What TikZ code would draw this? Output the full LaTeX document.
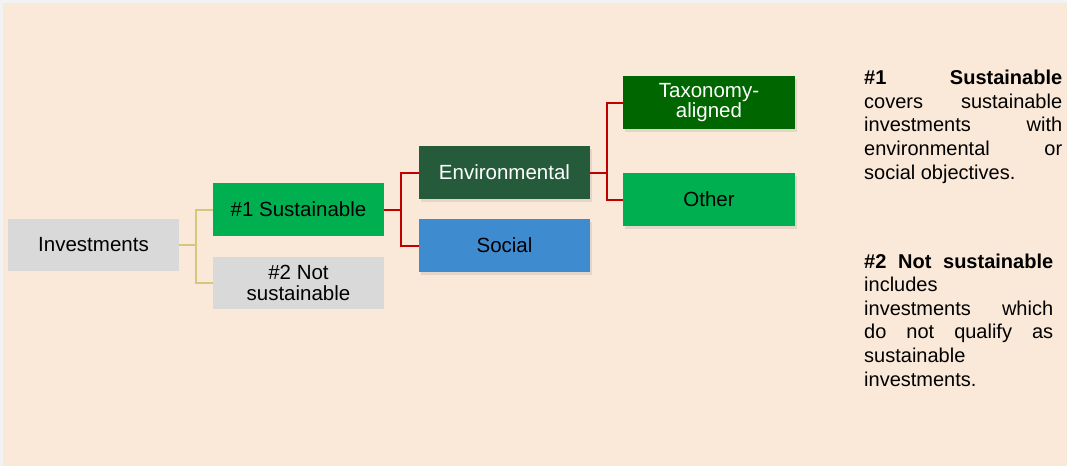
\documentclass[tikz,border=0pt]{standalone}
\usepackage{fontspec}
\setmainfont{Liberation Sans}
\usetikzlibrary{shadows}
\definecolor{bgpeach}{HTML}{FAE8D8}
\definecolor{bggray}{HTML}{F2F2F2}
\definecolor{boxgray}{HTML}{D9D9D9}
\definecolor{brightgreen}{HTML}{00B050}
\definecolor{envgreen}{HTML}{255B3B}
\definecolor{socblue}{HTML}{3F8BD0}
\definecolor{taxgreen}{HTML}{006600}
\definecolor{tanline}{HTML}{D6C77E}
\definecolor{redline}{HTML}{C00000}
\tikzset{
  box/.style={minimum width=171pt, minimum height=53pt, inner sep=0pt, align=center,
    font=\fontsize{20.5}{20.5}\selectfont},
  shad/.style={drop shadow={opacity=0.18, shadow xshift=2pt, shadow yshift=-3pt}},
  tanconn/.style={draw=tanline, line width=2pt},
  redconn/.style={draw=redline, line width=2pt},
  para/.style={anchor=base west, inner sep=0pt, align=left,
    font=\fontsize{20}{23.6}\selectfont}
}
\begin{document}
\begin{tikzpicture}[x=1pt,y=-1pt]
\fill[bggray] (0,0) rectangle (1067,466);
\fill[bgpeach] (3,3) rectangle (1067,466);
\useasboundingbox (0,0) rectangle (1067,466);

\node[box, fill=boxgray, minimum height=52pt] (inv) at (93.5,245) {Investments};
\node[box, fill=brightgreen] (s1) at (298.5,209.5) {\#1 Sustainable};
\node[box, fill=boxgray, minimum height=52pt] (s2) at (298.5,283) {\#2 Not\\sustainable};
\node[box, shad, fill=envgreen, text=white] (env) at (504.5,172.5) {Environmental};
\node[box, shad, fill=socblue] (soc) at (504.5,245.5) {Social};
\node[box, shad, fill=taxgreen, text=white, minimum width=172pt] (tax) at (709,102.5) {Taxonomy-\\aligned};
\node[box, shad, fill=brightgreen, minimum width=172pt] (oth) at (709,199.5) {Other};

\coordinate (j1) at (196,245);
\coordinate (j2) at (401,209.5);
\coordinate (j3) at (607,172.5);
\draw[tanconn] (inv.east) -- (j1);
\draw[tanconn] (j1) |- (s1.west);
\draw[tanconn] (j1) |- (s2.west);
\draw[redconn] (s1.east) -- (j2);
\draw[redconn] (j2) |- (env.west);
\draw[redconn] (j2) |- (soc.west);
\draw[redconn] (env.east) -- (j3);
\draw[redconn] (j3) |- (tax.west);
\draw[redconn] (j3) |- (oth.west);

\node[para] (p1) at (864,179) {%
\makebox[198pt][s]{\textbf{\#1 Sustainable}}\\
\makebox[198pt][s]{covers sustainable}\\
\makebox[198pt][s]{investments with}\\
\makebox[198pt][s]{environmental or}\\
social objectives.};
\node[para] (p2) at (864,386) {%
\makebox[189pt][s]{\textbf{\#2 Not sustainable}}\\
includes\\
\makebox[189pt][s]{investments which}\\
\makebox[189pt][s]{do not qualify as}\\
sustainable\\
investments.};
\end{tikzpicture}
\end{document}
